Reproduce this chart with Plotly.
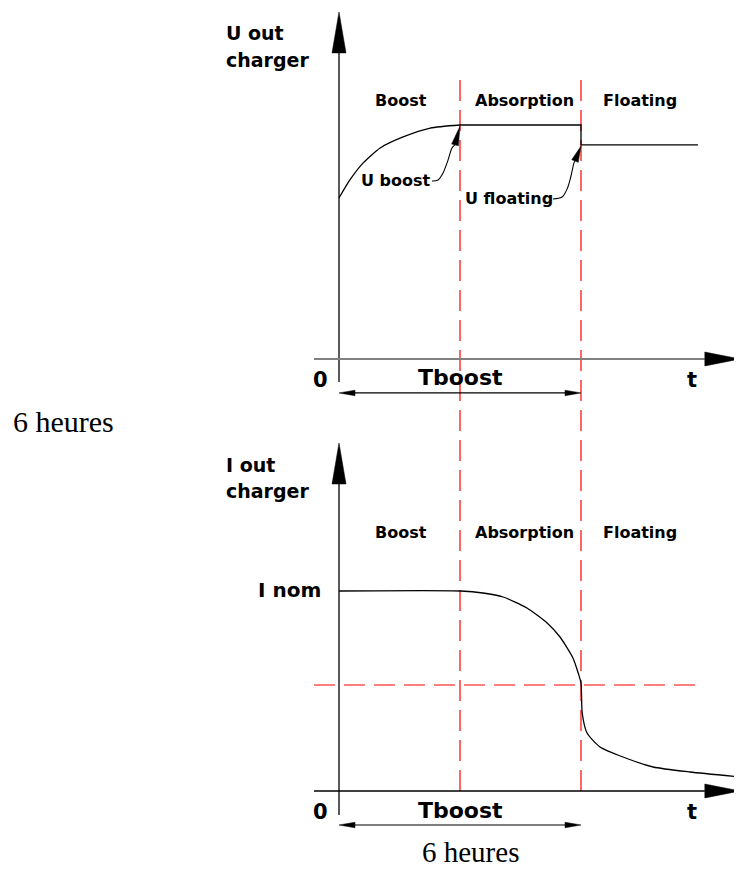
import math
import plotly.graph_objects as go

W, H = 734, 861

# ---------------- data (time in hours, values normalised) ----------------
T_BOOST_END = 3.0          # boost -> absorption
T_BOOST = 6.0              # Tboost = 6 heures
T_AXIS_START = -0.62
T_AXIS_TIP = 9.94
T_AXIS_HEAD = 9.07
T_LINE_END = 8.90

# U out charger
u_t = [0, 0.27, 0.60, 1.02, 1.59, 2.26, 3.0, 6.0, 6.0, 8.90]
u_v = [0.688, 0.765, 0.838, 0.902, 0.949, 0.987, 1.0, 1.0, 0.915, 0.915]

# I out charger
i_t = [0, 3.02, 3.57, 4.07, 4.66, 5.16, 5.48, 5.80, 5.93, 6.0, 6.03, 6.15, 6.47, 7.04, 7.79, 8.70, 9.94]
i_v = [1.0, 1.0, 0.99, 0.97, 0.915, 0.84, 0.77, 0.665, 0.59, 0.54, 0.39, 0.29, 0.22, 0.17, 0.12, 0.095, 0.07]
I_THRESHOLD = 0.53

# leader lines for "U boost" / "U floating"
lead_boost_t = [2.306, 2.455, 2.579, 2.703, 2.802, 2.876]
lead_boost_v = [0.761, 0.765, 0.795, 0.850, 0.902, 0.915]
lead_boost_tip = (3.0, 0.995)
lead_float_t = [5.306, 5.529, 5.653, 5.752, 5.826, 5.851]
lead_float_v = [0.684, 0.692, 0.726, 0.782, 0.838, 0.846]
lead_float_tip = (6.0, 0.910)

phase_labels = ["Boost", "Absorption", "Floating"]
phase_centers = [1.54, 4.59, 7.46]

# ---------------- axes geometry ----------------
XR = [-8.2067, 9.9917]
YR_TOP = [-0.33974, 1.5]
YR_BOT = [-0.39, 1.7625]
U_AX_TOP, U_AX_HEAD, U_AX_BOT = 1.483, 1.308, -0.098
I_AX_TOP, I_AX_HEAD, I_AX_BOT = 1.74, 1.535, -0.12
DASH_TOP_U = 1.192

sx = W / (XR[1] - XR[0])
sy_top = (H * 0.5) / (YR_TOP[1] - YR_TOP[0])
sy_bot = (H * 0.5) / (YR_BOT[1] - YR_BOT[0])


def paper_top(v):
    return 0.5 + 0.5 * (v - YR_TOP[0]) / (YR_TOP[1] - YR_TOP[0])


def paper_bot(v):
    return 0.5 * (v - YR_BOT[0]) / (YR_BOT[1] - YR_BOT[0])


def tri(tip, base, half_px, sy):
    tx, ty = tip[0] * sx, tip[1] * sy
    bx, by = base[0] * sx, base[1] * sy
    dx, dy = tx - bx, ty - by
    L = math.hypot(dx, dy)
    nx, ny = -dy / L * half_px, dx / L * half_px
    xs = [(bx + nx) / sx, tip[0], (bx - nx) / sx, (bx + nx) / sx]
    ys = [(by + ny) / sy, tip[1], (by - ny) / sy, (by + ny) / sy]
    return xs, ys


fig = go.Figure()


def line(xs, ys, panel, color="black", width=1.3, shape="linear", smoothing=1):
    fig.add_trace(go.Scatter(x=xs, y=ys, mode="lines",
                             line=dict(color=color, width=width, shape=shape, smoothing=smoothing),
                             xaxis="x" if panel == 1 else "x2",
                             yaxis="y" if panel == 1 else "y2",
                             hoverinfo="skip", showlegend=False))


def head(tip, base, half_px, panel, color="black"):
    sy = sy_top if panel == 1 else sy_bot
    xs, ys = tri(tip, base, half_px, sy)
    fig.add_trace(go.Scatter(x=xs, y=ys, mode="lines", fill="toself", fillcolor=color,
                             line=dict(color=color, width=0.5),
                             xaxis="x" if panel == 1 else "x2",
                             yaxis="y" if panel == 1 else "y2",
                             hoverinfo="skip", showlegend=False))


for panel, (atop, ahead, abot) in ((1, (U_AX_TOP, U_AX_HEAD, U_AX_BOT)),
                                   (2, (I_AX_TOP, I_AX_HEAD, I_AX_BOT))):
    # vertical axis
    line([0, 0], [abot, ahead], panel, width=1.3)
    head((0, atop), (0, ahead), 7, panel)
    # horizontal axis
    line([T_AXIS_START, T_AXIS_HEAD], [0, 0], panel,
         color="rgb(128,128,128)" if panel == 1 else "black", width=2 if panel == 1 else 1.3)
    head((T_AXIS_TIP, 0), (T_AXIS_HEAD, 0), 7, panel)
    # Tboost double arrow
    ya = -0.145 if panel == 1 else -0.17
    hl = 16 / sx
    line([hl, T_BOOST - hl], [ya, ya], panel, width=1.2)
    head((0, ya), (hl, ya), 2.8, panel)
    head((T_BOOST, ya), (T_BOOST - hl, ya), 2.8, panel)

# curves
line(u_t[:7], u_v[:7], 1, shape="spline", smoothing=0.6)
line(u_t[6:], u_v[6:], 1)
line(i_t, i_v, 2, shape="spline", smoothing=0.6)

# leaders
line(lead_boost_t, lead_boost_v, 1, width=1.1, shape="spline")
head(lead_boost_tip, (lead_boost_t[-1], lead_boost_v[-1]), 3.5, 1)
line(lead_float_t, lead_float_v, 1, width=1.1, shape="spline")
head(lead_float_tip, (lead_float_t[-1], lead_float_v[-1]), 3.5, 1)

# red dashed guides
shapes = []
for tv in (T_BOOST_END, T_BOOST):
    shapes.append(dict(type="line", xref="x", yref="paper", x0=tv, x1=tv,
                       y0=paper_bot(0), y1=paper_top(DASH_TOP_U), layer="below",
                       line=dict(color="rgb(255,0,0)", width=1.2, dash="21px,9px")))
shapes.append(dict(type="line", xref="x2", yref="y2", x0=T_AXIS_START, x1=T_LINE_END,
                   y0=I_THRESHOLD, y1=I_THRESHOLD, layer="below",
                   line=dict(color="rgb(255,0,0)", width=1.2, dash="21px,9px")))

SANS = "DejaVu Sans"
SERIF = "Liberation Serif"
ann = []


def text(s, x, y, panel, size, xanchor="center", family=SANS, bold=True):
    ann.append(dict(text=f"<b>{s}</b>" if bold else s, x=x, y=y,
                    xref="x" if panel == 1 else "x2", yref="y" if panel == 1 else "y2",
                    xanchor=xanchor, yanchor="middle", showarrow=False,
                    font=dict(family=family, size=size, color="black")))


# top panel texts
text("U out", -2.85, 1.393, 1, 19, "left")
text("charger", -2.85, 1.278, 1, 19, "left")
for lab, c in zip(phase_labels, phase_centers):
    text(lab, c, 1.103, 1, 16)
    text(lab, c, 1.295, 2, 16)
text("U boost", 1.41, 0.761, 1, 16)
text("U floating", 4.22, 0.688, 1, 16)
text("0", -0.45, -0.090, 1, 21)
text("Tboost", 3.0, -0.081, 1, 22)
text("t", 8.75, -0.090, 1, 21)
text("6 heures", -6.83, -0.265, 1, 30, family=SERIF, bold=False)

# bottom panel texts
text("I out", -2.85, 1.63, 2, 19, "left")
text("charger", -2.85, 1.50, 2, 19, "left")
text("I nom", -0.40, 1.005, 2, 20, "right")
text("0", -0.45, -0.105, 2, 21)
text("Tboost", 3.0, -0.095, 2, 22)
text("t", 8.75, -0.105, 2, 21)
text("6 heures", 3.27, -0.305, 2, 29, family=SERIF, bold=False)

ax_common = dict(visible=False, showgrid=False, zeroline=False, fixedrange=True)
fig.update_layout(
    width=W, height=H, margin=dict(l=0, r=0, t=0, b=0),
    paper_bgcolor="white", plot_bgcolor="white", showlegend=False,
    xaxis=dict(domain=[0, 1], range=XR, anchor="y", **ax_common),
    yaxis=dict(domain=[0.5, 1], range=YR_TOP, anchor="x", **ax_common),
    xaxis2=dict(domain=[0, 1], range=XR, anchor="y2", **ax_common),
    yaxis2=dict(domain=[0, 0.5], range=YR_BOT, anchor="x2", **ax_common),
    shapes=shapes, annotations=ann,
)

fig.write_html("out.html")
